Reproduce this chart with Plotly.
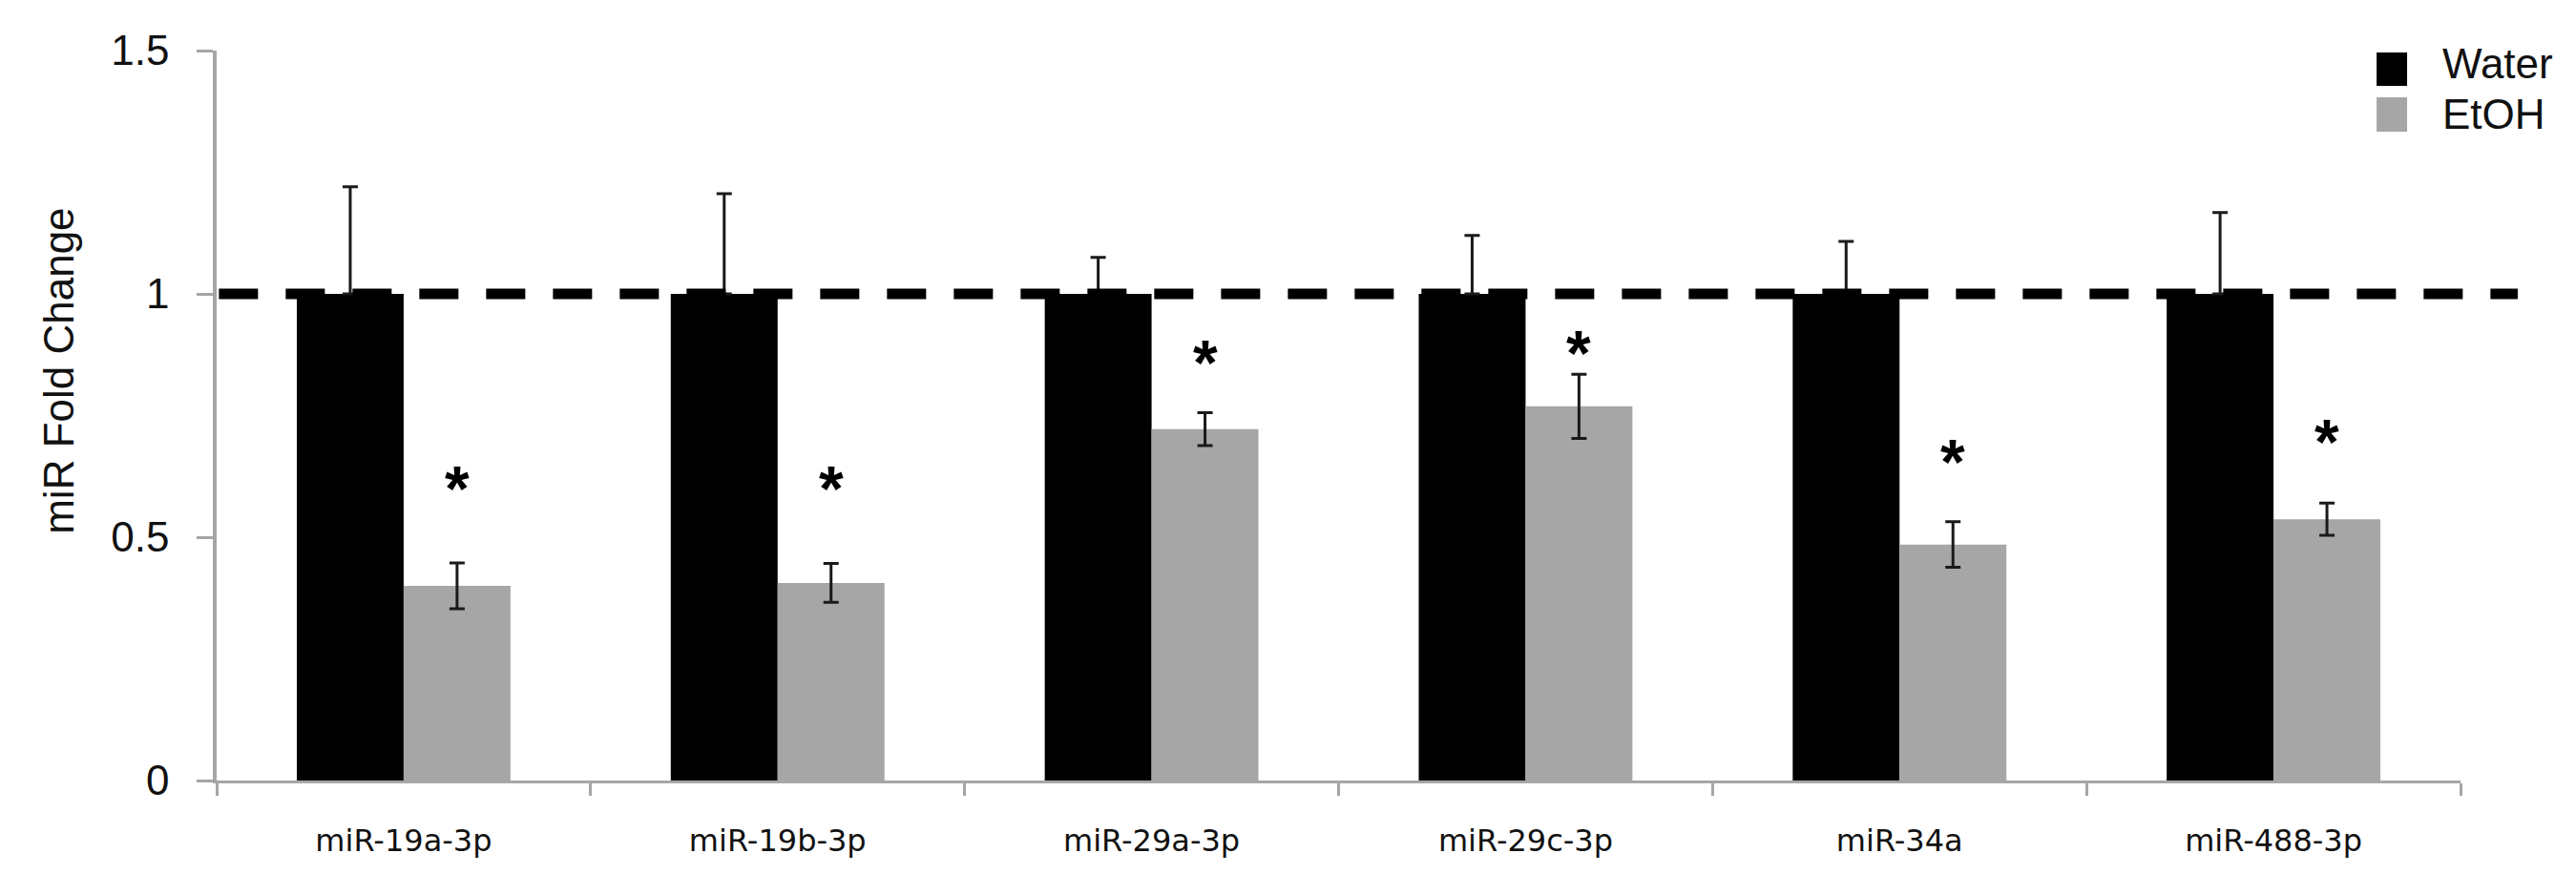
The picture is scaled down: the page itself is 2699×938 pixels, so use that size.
import plotly.graph_objects as go

categories = ["miR-19a-3p", "miR-19b-3p", "miR-29a-3p", "miR-29c-3p", "miR-34a", "miR-488-3p"]
water_mean = [1.0, 1.0, 1.0, 1.0, 1.0, 1.0]
water_err = [0.220, 0.206, 0.075, 0.120, 0.108, 0.167]
etoh_mean = [0.400, 0.406, 0.722, 0.769, 0.485, 0.537]
etoh_err = [0.047, 0.040, 0.034, 0.066, 0.047, 0.033]
star_y = [0.619, 0.620, 0.878, 0.898, 0.674, 0.716]
reference_level = 1.0
y_ticks = [0, 0.5, 1, 1.5]
y_tick_labels = ["0", "0.5", "1", "1.5"]

# page body adds an 8px margin, so the figure is 16px smaller than the window
W, H = 2683, 922
ML, MR, MT, MB = 219, 113, 45, 112
BARGAP = 0.4286
plot_w = W - ML - MR
cat_px = plot_w / len(categories)
bar_px = cat_px * (1 - BARGAP) / 2

AXIS_GRAY = "#a6a6a6"
GRAY = "#a6a6a6"
ERR_COLOR = "#1a1a1a"

fig = go.Figure()
fig.add_trace(go.Bar(
    name="Water", x=categories, y=water_mean,
    marker=dict(color="#000000", line=dict(width=0)),
    error_y=dict(type="data", symmetric=False, array=water_err,
                 arrayminus=[0] * len(water_err),
                 color=ERR_COLOR, thickness=3, width=8),
))
fig.add_trace(go.Bar(
    name="EtOH", x=categories, y=etoh_mean,
    marker=dict(color=GRAY, line=dict(width=0)),
    error_y=dict(type="data", array=etoh_err,
                 color=ERR_COLOR, thickness=3, width=8),
))

# dashed reference line at fold change = 1
fig.add_shape(type="line", xref="paper", yref="y",
              x0=0.001, x1=1.0255, y0=reference_level, y1=reference_level,
              line=dict(color="#000000", width=11, dash="41px,29px"),
              layer="above")

annotations = []
for c, sy in zip(categories, star_y):
    annotations.append(dict(
        x=c, y=sy, xref="x", yref="y", text="*", showarrow=False,
        xshift=bar_px / 2, yshift=-10, xanchor="center", yanchor="middle",
        font=dict(family="Liberation Sans, Arial, sans-serif", size=66,
                  color="#000000", weight="bold"),
    ))

# legend (drawn manually for large square swatches)
legend_items = [("Water", "#000000"), ("EtOH", GRAY)]
sq_y = [(0.9516, 0.9974), (0.8889, 0.9359)]
txt_y = [0.983, 0.9137]
for (name, col), (y0, y1), ty in zip(legend_items, sq_y, txt_y):
    fig.add_shape(type="rect", xref="paper", yref="paper",
                  x0=0.9626, x1=0.9762, y0=y0, y1=y1,
                  fillcolor=col, line=dict(width=0))
    annotations.append(dict(
        x=0.9911, y=ty, xref="paper", yref="paper", text=name,
        showarrow=False, xanchor="left", yanchor="middle",
        font=dict(family="Liberation Sans, Arial, sans-serif", size=44,
                  color="#111111"),
    ))

annotations.append(dict(
    x=-0.0702, y=0.561, xref="paper", yref="paper", text="miR Fold Change",
    showarrow=False, textangle=-90, xanchor="center", yanchor="middle",
    font=dict(family="Liberation Sans, Arial, sans-serif", size=44,
              color="#111111"),
))

fig.update_layout(
    width=W, height=H,
    margin=dict(l=ML, r=MR, t=MT, b=MB, pad=0),
    paper_bgcolor="white", plot_bgcolor="white",
    barmode="group", bargap=BARGAP, bargroupgap=0,
    showlegend=False,
    annotations=annotations,
)
fig.update_xaxes(
    type="category", range=[-0.5, len(categories) - 0.5],
    showline=True, linecolor=AXIS_GRAY, linewidth=3,
    ticks="outside", tickson="boundaries", ticklen=13, tickwidth=3,
    tickcolor=AXIS_GRAY, showgrid=False, zeroline=False,
    tickfont=dict(family="DejaVu Sans, Verdana, sans-serif", size=32,
                  color="#111111"),
    ticklabelstandoff=33,
)
fig.update_yaxes(
    range=[0, 1.5], tickvals=y_ticks, ticktext=y_tick_labels,
    showline=True, linecolor=AXIS_GRAY, linewidth=3.5,
    ticks="outside", ticklen=17, tickwidth=3, tickcolor=AXIS_GRAY,
    showgrid=False, zeroline=False,
    tickfont=dict(family="Liberation Sans, Arial, sans-serif", size=44,
                  color="#111111"),
    ticklabelstandoff=20,
)

fig.write_html("out.html")
